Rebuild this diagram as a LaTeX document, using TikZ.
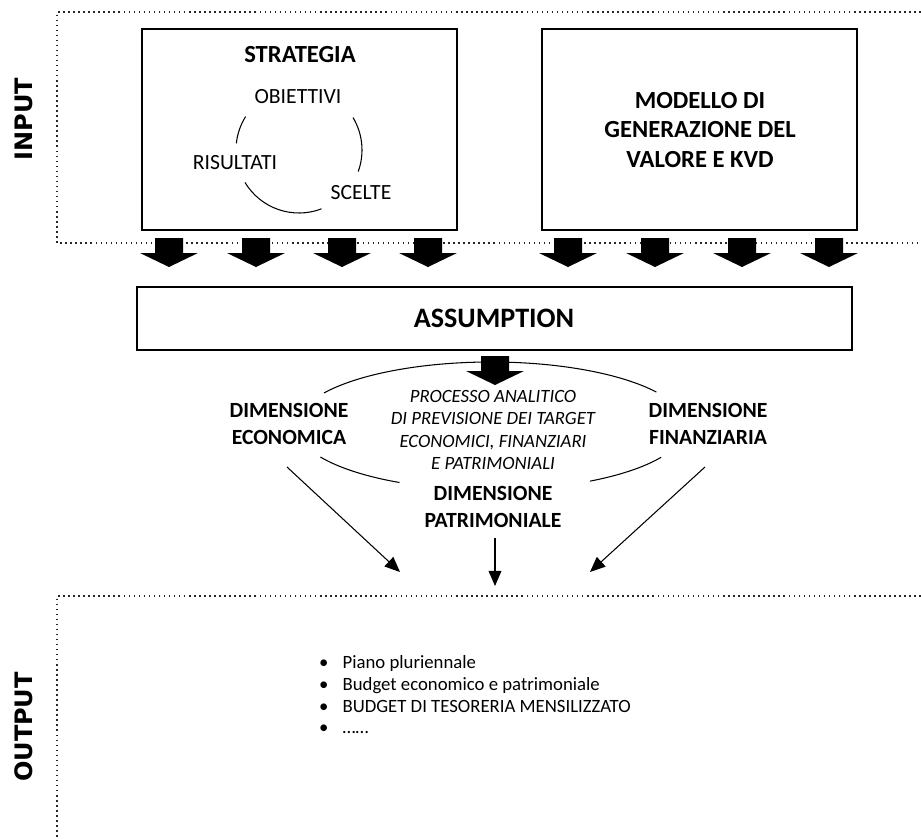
\documentclass[tikz,border=0pt]{standalone}
\usepackage{fontspec}
\setmainfont{Carlito}
\newfontfamily\labelfont{DejaVu Sans}
\usetikzlibrary{arrows.meta,calc}
\def\px{0.03cm}
\def\blockarrow(#1,#2){\fill[black] (#1-14,#2) -- (#1+14,#2) -- (#1+14,#2+15) -- (#1+29,#2+15) -- (#1,#2+29) -- (#1-29,#2+15) -- (#1-14,#2+15) -- cycle;}
\tikzset{
  box/.style={draw, line width=1.1pt, inner sep=0pt},
  region/.style={line width=1.3pt, black!85, dash pattern=on 1.3pt off 3pt},
  side/.style={font=\labelfont\bfseries\fontsize{20.5}{24}\selectfont, rotate=90},
  title/.style={font=\bfseries\fontsize{21}{25.5}\selectfont, align=center},
  cyc/.style={font=\fontsize{18.5}{22}\selectfont},
  dim/.style={font=\bfseries\fontsize{18.5}{22.5}\selectfont, align=center},
  arr/.style={line width=0.9pt, -{Triangle[length=13pt,width=11pt]}},
}
\begin{document}
\begin{tikzpicture}[x=\px, y=-\px]
		\useasboundingbox (0,0) rectangle (921,839);
		
		%%%%% INPUT %%%%%
		\draw[region] (921,12) -- (57,12) -- (57,243) -- (921,243);
		\node[side] (input) at (24,119) {INPUT};
		
		\node[box, minimum width={315*\px}, minimum height={201*\px}] (strategia) at (299.5,129.5) {};
		\node[title] (strattitle) at (300,55) {STRATEGIA};
		\node[cyc] (obiettivi) at (298,97) {OBIETTIVI};
		\node[cyc] (risultati) at (235,163) {RISULTATI};
		\node[cyc] (scelte) at (361,193) {SCELTE};
		\coordinate (cyc) at (299,150);
		\draw[line width=0.9pt] ([shift={(-31:63)}]cyc) arc[start angle=-31, end angle=20, radius=63];
		\draw[line width=0.9pt] ([shift={(-148:63)}]cyc) arc[start angle=-148, end angle=-174, radius=63];
		\draw[line width=0.9pt] ([shift={(149:63)}]cyc) arc[start angle=149, end angle=69, radius=63];
		
		\node[box, minimum width={315*\px}, minimum height={201*\px}] (modello) at (699.5,129.5) {};
		\node[title] (modtitle) at (700,130) {MODELLO DI\\GENERAZIONE DEL\\VALORE E KVD};
		
		\foreach \c in {169,256,342,428,568,655,742,829}
			{\blockarrow(\c,238)}
		
		%%%%% ASSUMPTION %%%%%
		\node[box, minimum width={715*\px}, minimum height={63*\px}] (assumption) at (494.5,318.5) {};
		\node[font=\bfseries\fontsize{24}{28}\selectfont] (asstitle) at (494,318) {ASSUMPTION};
		\blockarrow(495,356)
		
		\coordinate (ell) at (491,426);
		\draw[line width=0.9pt] ([shift={(-148.9:195 and 64)}]ell) arc[start angle=-148.9, end angle=-32, x radius=195, y radius=64];
		\draw[line width=0.9pt] ([shift={(151:195 and 64)}]ell) arc[start angle=151, end angle=118, x radius=195, y radius=64];
		\draw[line width=0.9pt] ([shift={(59.5:195 and 64)}]ell) arc[start angle=59.5, end angle=29.3, x radius=195, y radius=64];
		
		\node[font=\itshape\fontsize{16}{19.3}\selectfont, align=center] (processo) at (493,430)
			{PROCESSO ANALITICO\\DI PREVISIONE DEI TARGET\\ECONOMICI, FINANZIARI\\E PATRIMONIALI};
		\node[dim] (econ) at (289,424) {DIMENSIONE\\ECONOMICA};
		\node[dim] (fin) at (708,424) {DIMENSIONE\\FINANZIARIA};
		\node[dim] (patr) at (493,507) {DIMENSIONE\\PATRIMONIALE};
		
		\coordinate (econstart) at (287,467);
		\coordinate (finstart) at (705,467);
		\coordinate (patrstart) at (495,538);
		\coordinate (econend) at (400,572);
		\coordinate (finend) at (590,572);
		\coordinate (patrend) at (495,586);
		\draw[arr] (econstart) -- (econend);
		\draw[arr] (finstart) -- (finend);
		\draw[arr] (patrstart) -- (patrend);
		
		%%%%% OUTPUT %%%%%
		\draw[region] (921,596) -- (57,596) -- (57,839);
		\node[side] (output) at (24,727) {OUTPUT};
		
		\node[anchor=north west, inner sep=0pt, font=\fontsize{16}{18.7}\selectfont, align=left] (outlist) at (319,655)
			{\textbullet\hspace{12pt}Piano pluriennale\\
			 \textbullet\hspace{12pt}Budget economico e patrimoniale\\
			 \textbullet\hspace{12pt}BUDGET DI TESORERIA MENSILIZZATO\\
			 \textbullet\hspace{12pt}……};
		
	\end{tikzpicture}
\end{document}
